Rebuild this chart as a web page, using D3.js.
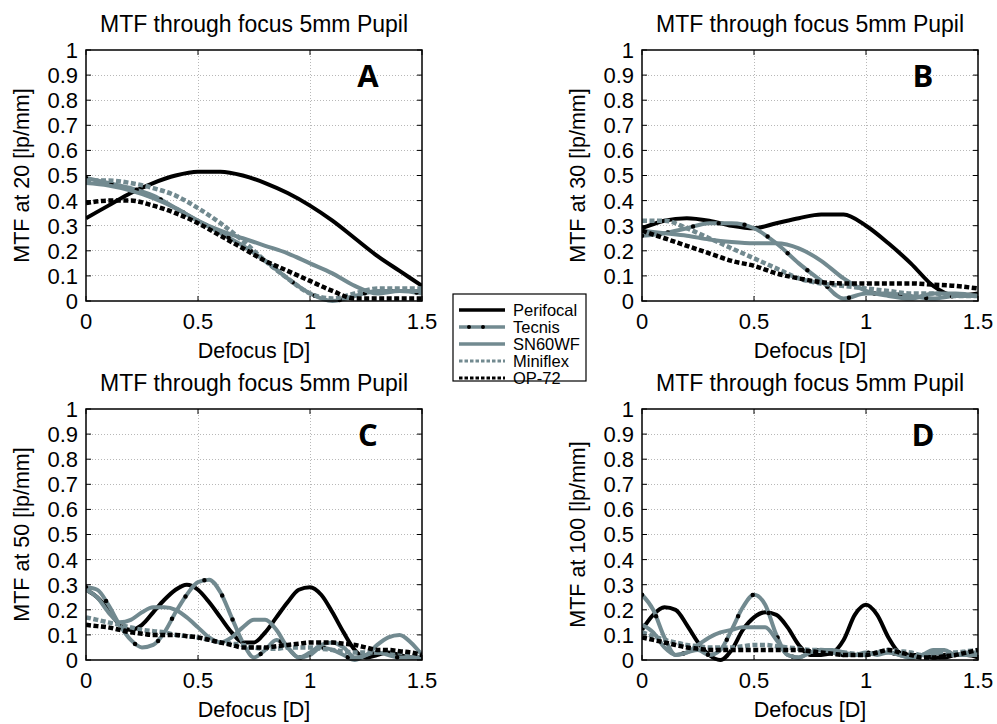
<!DOCTYPE html>
<html lang="en">
<head>
    <meta charset="UTF-8">
    <title>MTF through focus</title>
    <script src="https://d3js.org/d3.v7.min.js"></script>
    <style>
        body { margin: 0; background: #fff; }
        text { font-family: "Liberation Sans", Arial, sans-serif; fill: #000; }
        .letter { font-family: "Open Sans", sans-serif; font-weight: 700; }
    </style>
</head>
<body>
    <div id="chart"></div>
    <script>
        // defocus grids
        var xCoarse = [0, 0.1, 0.2, 0.3, 0.4, 0.5, 0.6, 0.7, 0.8, 0.9, 1.0, 1.1, 1.2, 1.3, 1.4, 1.5]
        var xFine = [0, 0.05, 0.1, 0.15, 0.2, 0.25, 0.3, 0.35, 0.4, 0.45, 0.5, 0.55, 0.6, 0.65, 0.7, 0.75,
                     0.8, 0.85, 0.9, 0.95, 1.0, 1.05, 1.1, 1.15, 1.2, 1.25, 1.3, 1.35, 1.4, 1.45, 1.5]

        var yTicks = [0, 0.1, 0.2, 0.3, 0.4, 0.5, 0.6, 0.7, 0.8, 0.9, 1]
        var xTicks = [0, 0.5, 1, 1.5]
        var lenses = ["Perifocal", "Tecnis", "SN60WF", "Miniflex", "OP-72"]

        // A: 20 lp/mm
        var perifocalA = [0.33, 0.38, 0.43, 0.47, 0.50, 0.515, 0.515, 0.50, 0.47, 0.43, 0.38, 0.32, 0.25, 0.18, 0.12, 0.06]
        var tecnisA    = [0.49, 0.47, 0.45, 0.42, 0.37, 0.32, 0.27, 0.22, 0.16, 0.09, 0.03, 0.0, 0.02, 0.04, 0.04, 0.03]
        var sn60wfA    = [0.47, 0.46, 0.44, 0.41, 0.37, 0.32, 0.28, 0.25, 0.22, 0.19, 0.15, 0.11, 0.06, 0.03, 0.04, 0.04]
        var miniflexA  = [0.48, 0.48, 0.47, 0.45, 0.42, 0.37, 0.31, 0.24, 0.16, 0.09, 0.03, 0.01, 0.03, 0.05, 0.05, 0.05]
        var op72A      = [0.39, 0.40, 0.40, 0.38, 0.35, 0.31, 0.26, 0.21, 0.16, 0.12, 0.08, 0.04, 0.01, 0.01, 0.01, 0.01]

        // B: 30 lp/mm
        var perifocalB = [0.29, 0.32, 0.33, 0.32, 0.30, 0.29, 0.31, 0.33, 0.345, 0.345, 0.30, 0.23, 0.15, 0.06, 0.02, 0.03]
        var tecnisB    = [0.26, 0.27, 0.29, 0.31, 0.31, 0.29, 0.23, 0.15, 0.08, 0.01, 0.03, 0.03, 0.02, 0.01, 0.02, 0.02]
        var sn60wfB    = [0.28, 0.27, 0.26, 0.245, 0.235, 0.23, 0.23, 0.21, 0.16, 0.09, 0.04, 0.02, 0.01, 0.03, 0.03, 0.02]
        var miniflexB  = [0.32, 0.32, 0.29, 0.25, 0.21, 0.17, 0.13, 0.09, 0.07, 0.06, 0.05, 0.04, 0.03, 0.03, 0.02, 0.02]
        var op72B      = [0.28, 0.25, 0.22, 0.19, 0.16, 0.14, 0.11, 0.09, 0.075, 0.07, 0.07, 0.07, 0.07, 0.065, 0.06, 0.05]

        // C: 50 lp/mm
        var perifocalC = [0.28, 0.25, 0.20, 0.14, 0.12, 0.14, 0.19, 0.24, 0.28, 0.30, 0.28, 0.23, 0.17, 0.11, 0.07, 0.07,
                          0.11, 0.17, 0.23, 0.28, 0.29, 0.26, 0.19, 0.11, 0.04, 0.01, 0.02, 0.03, 0.02, 0.01, 0.01]
        var tecnisC    = [0.29, 0.28, 0.22, 0.14, 0.08, 0.05, 0.06, 0.11, 0.19, 0.26, 0.31, 0.32, 0.27, 0.17, 0.07, 0.01,
                          0.04, 0.08, 0.05, 0.01, 0.02, 0.05, 0.04, 0.02, 0.0, 0.02, 0.03, 0.02, 0.01, 0.01, 0.01]
        var sn60wfC    = [0.28, 0.25, 0.19, 0.15, 0.16, 0.19, 0.21, 0.21, 0.20, 0.17, 0.13, 0.09, 0.07, 0.09, 0.13, 0.16,
                          0.16, 0.12, 0.05, 0.01, 0.03, 0.06, 0.07, 0.05, 0.01, 0.02, 0.06, 0.09, 0.10, 0.07, 0.02]
        var miniflexC  = [0.17, 0.16, 0.15, 0.14, 0.13, 0.12, 0.115, 0.11, 0.10, 0.095, 0.09, 0.08, 0.07, 0.065, 0.06, 0.05,
                          0.045, 0.045, 0.05, 0.05, 0.05, 0.045, 0.04, 0.035, 0.03, 0.03, 0.03, 0.03, 0.03, 0.02, 0.01]
        var op72C      = [0.14, 0.135, 0.13, 0.12, 0.11, 0.105, 0.10, 0.10, 0.10, 0.095, 0.09, 0.08, 0.07, 0.06, 0.05, 0.05,
                          0.05, 0.055, 0.06, 0.065, 0.07, 0.07, 0.07, 0.065, 0.06, 0.05, 0.04, 0.04, 0.035, 0.03, 0.02]

        // D: 100 lp/mm
        var perifocalD = [0.12, 0.18, 0.21, 0.20, 0.14, 0.07, 0.02, 0.0, 0.04, 0.12, 0.17, 0.19, 0.18, 0.13, 0.06, 0.02,
                          0.02, 0.03, 0.08, 0.18, 0.22, 0.18, 0.09, 0.03, 0.02, 0.02, 0.01, 0.01, 0.02, 0.02, 0.01]
        var tecnisD    = [0.26, 0.20, 0.09, 0.02, 0.03, 0.04, 0.02, 0.04, 0.12, 0.21, 0.26, 0.22, 0.10, 0.02, 0.01, 0.03,
                          0.04, 0.03, 0.02, 0.02, 0.03, 0.02, 0.03, 0.02, 0.01, 0.02, 0.03, 0.02, 0.02, 0.03, 0.03]
        var sn60wfD    = [0.14, 0.11, 0.05, 0.02, 0.03, 0.06, 0.09, 0.11, 0.12, 0.13, 0.13, 0.13, 0.08, 0.02, 0.01, 0.03,
                          0.04, 0.04, 0.03, 0.02, 0.02, 0.03, 0.03, 0.02, 0.01, 0.02, 0.04, 0.04, 0.02, 0.02, 0.02]
        var miniflexD  = [0.11, 0.095, 0.08, 0.07, 0.06, 0.055, 0.05, 0.05, 0.05, 0.055, 0.06, 0.06, 0.055, 0.05, 0.045, 0.04,
                          0.04, 0.035, 0.03, 0.025, 0.02, 0.03, 0.04, 0.035, 0.03, 0.02, 0.02, 0.03, 0.03, 0.035, 0.04]
        var op72D      = [0.09, 0.08, 0.07, 0.06, 0.05, 0.045, 0.04, 0.04, 0.04, 0.04, 0.04, 0.04, 0.04, 0.04, 0.04, 0.035,
                          0.03, 0.025, 0.02, 0.02, 0.02, 0.03, 0.04, 0.03, 0.02, 0.01, 0.01, 0.015, 0.02, 0.03, 0.04]

        var gray = "#728a90"

        var panels = [
            {letter: "A", ylabel: "MTF at 20 [lp/mm]", xs: xCoarse, series: [perifocalA, tecnisA, sn60wfA, miniflexA, op72A], left: 86, top: 50},
            {letter: "B", ylabel: "MTF at 30 [lp/mm]", xs: xCoarse, series: [perifocalB, tecnisB, sn60wfB, miniflexB, op72B], left: 642, top: 50},
            {letter: "C", ylabel: "MTF at 50 [lp/mm]", xs: xFine, series: [perifocalC, tecnisC, sn60wfC, miniflexC, op72C], left: 86, top: 409},
            {letter: "D", ylabel: "MTF at 100 [lp/mm]", xs: xFine, series: [perifocalD, tecnisD, sn60wfD, miniflexD, op72D], left: 642, top: 409}
        ]
        var pw = 336, ph = 251

        // line style per lens
        var styles = [
            {stroke: "#000", width: 4, dash: null},
            {stroke: gray, width: 4, dash: null, dots: true},
            {stroke: gray, width: 4, dash: null},
            {stroke: gray, width: 4.5, dash: "5,2.5"},
            {stroke: "#000", width: 4.5, dash: "5,2.5"}
        ]

        var svg = d3.select("#chart").append("svg")
            .attr("width", 997)
            .attr("height", 724)

        panels.forEach(function (p) {
            var x = d3.scaleLinear().domain([0, 1.5]).range([0, pw])
            var y = d3.scaleLinear().domain([0, 1]).range([ph, 0])

            var g = svg.append("g").attr("transform", "translate(" + p.left + "," + p.top + ")")

            g.append("defs").append("clipPath").attr("id", "clip" + p.letter)
                .append("rect").attr("x", 0).attr("y", -2).attr("width", pw).attr("height", ph + 4)

            // grid
            g.selectAll("line.hgrid").data(yTicks.slice(1, -1)).enter()
                .append("line")
                .attr("x1", 0).attr("x2", pw)
                .attr("y1", d => y(d)).attr("y2", d => y(d))
                .attr("stroke", "#b8b8b8").attr("stroke-width", 1)
                .attr("stroke-dasharray", "1,2")
                .attr("shape-rendering", "crispEdges")
            g.selectAll("line.vgrid").data(xTicks.slice(1, -1)).enter()
                .append("line")
                .attr("x1", d => x(d)).attr("x2", d => x(d))
                .attr("y1", 0).attr("y2", ph)
                .attr("stroke", "#b8b8b8").attr("stroke-width", 1)
                .attr("stroke-dasharray", "1,2")
                .attr("shape-rendering", "crispEdges")

            // curves
            var lines = g.append("g").attr("clip-path", "url(#clip" + p.letter + ")")
            p.series.forEach(function (vals, i) {
                var pts = p.xs.map((xv, j) => [xv, vals[j]])
                var line = d3.line().x(d => x(d[0])).y(d => y(d[1])).curve(d3.curveMonotoneX)
                var s = styles[i]
                lines.append("path")
                    .attr("d", line(pts))
                    .attr("fill", "none")
                    .attr("stroke", s.stroke)
                    .attr("stroke-width", s.width)
                    .attr("stroke-dasharray", s.dash)
                    .attr("stroke-linejoin", "round")
                if (s.dots) {
                    lines.append("path")
                        .attr("d", line(pts))
                        .attr("fill", "none")
                        .attr("stroke", "#000")
                        .attr("stroke-width", 4.5)
                        .attr("stroke-linecap", "round")
                        .attr("stroke-dasharray", "0,26")
                }
            })

            // ticks (inside, on all four sides)
            yTicks.forEach(function (t) {
                g.append("line").attr("x1", 0).attr("x2", 5).attr("y1", y(t)).attr("y2", y(t)).attr("stroke", "#000")
                g.append("line").attr("x1", pw - 5).attr("x2", pw).attr("y1", y(t)).attr("y2", y(t)).attr("stroke", "#000")
            })
            xTicks.forEach(function (t) {
                g.append("line").attr("x1", x(t)).attr("x2", x(t)).attr("y1", ph).attr("y2", ph - 5).attr("stroke", "#000")
                g.append("line").attr("x1", x(t)).attr("x2", x(t)).attr("y1", 0).attr("y2", 5).attr("stroke", "#000")
            })

            // frame
            g.append("rect")
                .attr("width", pw).attr("height", ph)
                .attr("fill", "none").attr("stroke", "#000").attr("stroke-width", 1.5)

            // tick labels
            g.selectAll("text.ytick").data(yTicks).enter()
                .append("text")
                .attr("x", -8).attr("y", d => y(d)).attr("dy", "0.36em")
                .attr("text-anchor", "end")
                .style("font-size", "22px")
                .text(d => d3.format("")(d))
            g.selectAll("text.xtick").data(xTicks).enter()
                .append("text")
                .attr("x", d => x(d)).attr("y", ph + 28)
                .attr("text-anchor", "middle")
                .style("font-size", "22px")
                .text(d => d3.format("")(d))

            // labels
            g.append("text")
                .attr("x", pw / 2).attr("y", ph + 57)
                .attr("text-anchor", "middle")
                .style("font-size", "21.5px")
                .text("Defocus [D]")
            g.append("text")
                .attr("transform", "translate(-57," + (ph / 2) + ") rotate(-90)")
                .attr("text-anchor", "middle")
                .style("font-size", "21.5px")
                .text(p.ylabel)
            g.append("text")
                .attr("x", pw / 2).attr("y", -18)
                .attr("text-anchor", "middle")
                .style("font-size", "23px")
                .text("MTF through focus 5mm Pupil")
            g.append("text")
                .attr("class", "letter")
                .attr("x", p.letter === "A" || p.letter === "C" ? 282 : 281).attr("y", 37)
                .attr("text-anchor", "middle")
                .style("font-size", "31px")
                .text(p.letter)
        })

        // legend
        var lg = svg.append("g").attr("transform", "translate(453,294)")
        lg.append("rect")
            .attr("width", 133).attr("height", 87)
            .attr("fill", "#fff").attr("stroke", "#000").attr("stroke-width", 1.2)
        lenses.forEach(function (name, i) {
            var s = styles[i]
            var yy = 16 + i * 17
            lg.append("line")
                .attr("x1", 6).attr("x2", 52).attr("y1", yy).attr("y2", yy)
                .attr("stroke", s.stroke)
                .attr("stroke-width", s.dash ? 3 : 3.5)
                .attr("stroke-dasharray", s.dash ? "3.5,2" : null)
            if (s.dots) {
                lg.append("line")
                    .attr("x1", 16).attr("x2", 44).attr("y1", yy).attr("y2", yy)
                    .attr("stroke", "#000").attr("stroke-width", 4)
                    .attr("stroke-linecap", "round")
                    .attr("stroke-dasharray", "0,14")
            }
            lg.append("text")
                .attr("x", 60).attr("y", yy).attr("dy", "0.36em")
                .style("font-size", "16.5px")
                .text(name)
        })
    </script>
</body>
</html>
